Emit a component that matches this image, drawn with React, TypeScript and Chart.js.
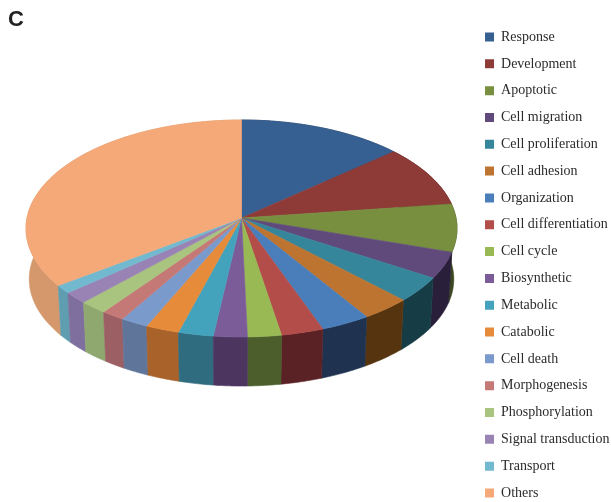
import { useEffect, useRef } from "react";
import { Chart, PieController, registerables } from "chart.js";

const categories = [
  "Response", "Development", "Apoptotic", "Cell migration", "Cell proliferation", "Cell adhesion",
  "Organization", "Cell differentiation", "Cell cycle", "Biosynthetic", "Metabolic", "Catabolic",
  "Cell death", "Morphogenesis", "Phosphorylation", "Signal transduction", "Transport", "Others",
];
const shares = [13.6, 9.3, 7.1, 3.9, 3.7, 3.4, 3.4, 2.9, 2.3, 2.3, 2.4, 2.3, 1.9, 1.6, 1.9, 1.7, 1.2, 35.1];
const topColors = [
  "#376092", "#8E3B38", "#778F3F", "#604A7B", "#35859B", "#BC7430", "#4A7EBB", "#B24D4A", "#98B954",
  "#7B5C99", "#44A3BC", "#E58B3A", "#7A9ACB", "#C57976", "#A9C47F", "#9983B4", "#72B9CF", "#F5A978",
];
const wallColors = [
  "#1C3049", "#471E1C", "#3A4720", "#2A1F3A", "#163C45", "#55340F", "#1F3350", "#5B2226", "#4B5E2C",
  "#4C3660", "#2F6C80", "#A8622A", "#5F7599", "#9C5F64", "#8FA86F", "#7F6F9F", "#5F9DB0", "#D4986C",
];

// Tilted-disc projection: the near rim sits lower and wider than the far rim.
const DISC = { x: 241.5, y: 218, rx: 214.5, ry: 107.5, perspective: 0.0968, depth: 50.8, floorScale: 0.985 };

function rimPoint(angle: number, floor: boolean) {
  const u = Math.cos(angle);
  const v = Math.sin(angle);
  const w = 1 - DISC.perspective * v;
  const s = floor ? DISC.floorScale : 1;
  return {
    x: DISC.x + (DISC.rx * s * u) / w,
    y: DISC.y + (floor ? DISC.depth : 0) + (DISC.ry * s * v) / w,
  };
}

function traceRim(ctx: CanvasRenderingContext2D, from: number, to: number, floor: boolean, move: boolean) {
  const steps = Math.max(2, Math.ceil(Math.abs(to - from) / 0.01));
  for (let i = 0; i <= steps; i++) {
    const p = rimPoint(from + ((to - from) * i) / steps, floor);
    if (move && i === 0) ctx.moveTo(p.x, p.y);
    else ctx.lineTo(p.x, p.y);
  }
}

// Pie whose slice angles come from the stock controller, painted as a solid disc.
class Pie3DController extends PieController {
  static id = "pie3d";
  static defaults = {};

  draw() {
    const ctx = this.chart.ctx;
    const arcs = this.getMeta().data as any[];
    const bottomAngle = Math.PI / 2;
    const order = arcs
      .map((arc, index) => ({ arc, index }))
      .sort((a, b) => {
        const mid = (e: any) => Math.abs((e.arc.startAngle + e.arc.endAngle) / 2 - bottomAngle);
        return mid(b) - mid(a);
      });

    ctx.save();
    ctx.lineJoin = "round";
    ctx.lineWidth = 0.6;
    for (const { arc, index } of order) {
      ctx.beginPath();
      traceRim(ctx, arc.startAngle, arc.endAngle, false, true);
      traceRim(ctx, arc.endAngle, arc.startAngle, true, false);
      ctx.closePath();
      ctx.fillStyle = wallColors[index];
      ctx.strokeStyle = wallColors[index];
      ctx.fill();
      ctx.stroke();
    }
    arcs.forEach((arc) => {
      ctx.beginPath();
      ctx.moveTo(DISC.x, DISC.y);
      traceRim(ctx, arc.startAngle, arc.endAngle, false, false);
      ctx.closePath();
      ctx.fillStyle = arc.options.backgroundColor;
      ctx.strokeStyle = arc.options.backgroundColor;
      ctx.fill();
      ctx.stroke();
    });
    ctx.restore();
  }
}

Chart.register(...registerables, Pie3DController);

const placeLegend = {
  id: "placeLegend",
  afterLayout(chart: any) {
    const legend = chart.legend;
    legend.left = 472.2;
    legend.top = 17.2;
    legend.bottom = 530;
  },
};

export default function App() {
  const canvasRef = useRef<HTMLCanvasElement>(null);

  useEffect(() => {
    const chart = new Chart(canvasRef.current as HTMLCanvasElement, {
      type: "pie3d" as any,
      data: {
        labels: categories,
        datasets: [{ data: shares, backgroundColor: topColors, borderWidth: 0 }],
      },
      options: {
        animation: false,
        responsive: false,
        layout: { padding: { left: 8 } },
        plugins: {
          tooltip: { enabled: false },
          title: {
            display: true,
            text: "C",
            align: "start",
            fullSize: false,
            color: "#222222",
            font: { family: "'Liberation Sans'", weight: "bold", size: 22, lineHeight: 1 },
            padding: { top: 9, bottom: 0 },
          },
          legend: {
            position: "right",
            align: "start",
            labels: {
              boxWidth: 9,
              boxHeight: 9,
              padding: 12.82,
              color: "#2B2B2B",
              font: { family: "'Liberation Serif'", size: 14 },
            },
          },
        },
      } as any,
      plugins: [placeLegend],
    });
    return () => chart.destroy();
  }, []);

  return (
    <div style={{ position: "absolute", left: 0, top: 0 }}>
      <canvas ref={canvasRef} width={611} height={502} style={{ display: "block" }} />
    </div>
  );
}
